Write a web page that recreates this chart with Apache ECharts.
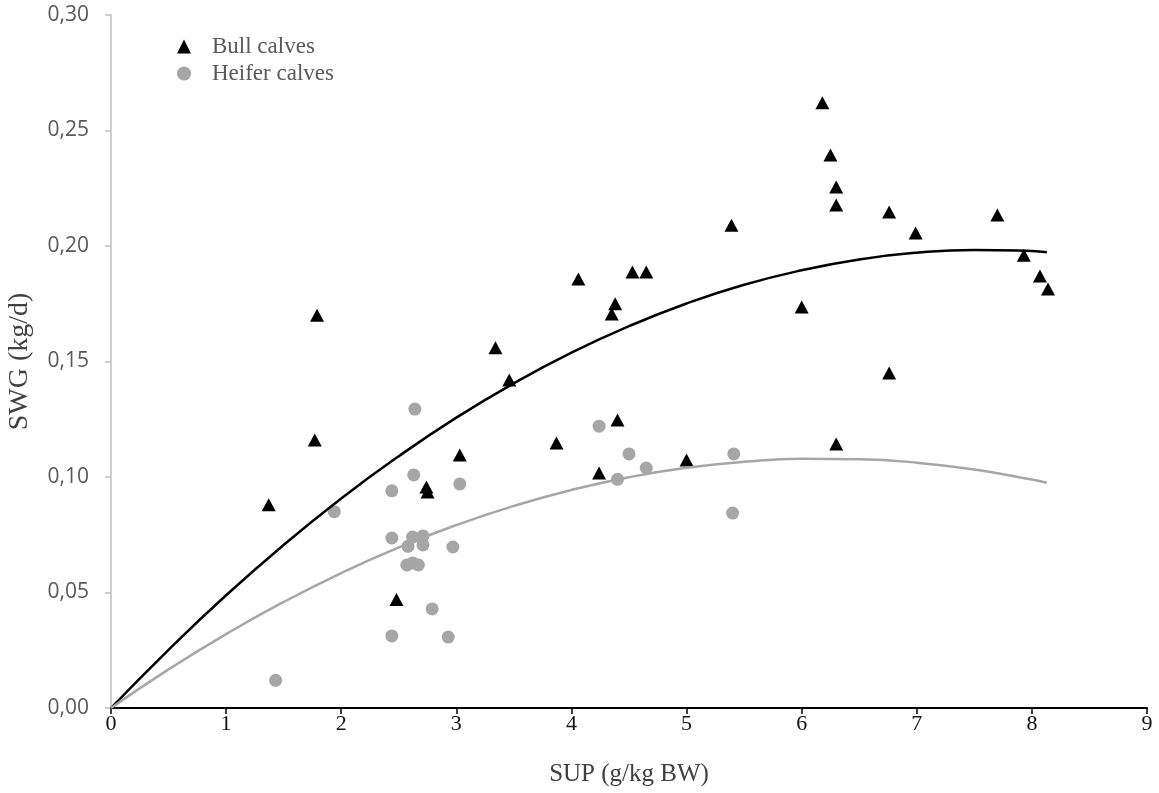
<!DOCTYPE html>
<html>
<head>
<meta charset="utf-8">
<script src="https://cdn.jsdelivr.net/npm/echarts@6/dist/echarts.min.js"></script>
<style>
html,body{margin:0;padding:0;background:#fff;}
#chart{width:1159px;height:793px;}
</style>
</head>
<body>
<div id="chart"></div>
<script>
// Bull calves: [SUP, SWG]
const bullX = [1.37, 1.77, 1.79, 2.48, 2.74, 2.75, 3.03, 3.34, 3.46, 3.87, 4.06, 4.24, 4.35, 4.38, 4.40, 4.53, 4.65, 5.00, 5.39, 6.00, 6.18, 6.25, 6.30, 6.30, 6.30, 6.76, 6.76, 6.99, 7.70, 7.93, 8.07, 8.14];
const bullY = [0.088, 0.116, 0.170, 0.047, 0.0957, 0.0935, 0.1095, 0.156, 0.142, 0.1147, 0.1857, 0.1017, 0.1706, 0.175, 0.1247, 0.1887, 0.1887, 0.1074, 0.209, 0.1736, 0.262, 0.2394, 0.2255, 0.2177, 0.1143, 0.2147, 0.145, 0.2056, 0.2134, 0.196, 0.187, 0.1814];
// Heifer calves
const heiferX = [1.43, 1.94, 2.44, 2.44, 2.44, 2.57, 2.58, 2.62, 2.62, 2.63, 2.64, 2.67, 2.71, 2.71, 2.79, 2.93, 2.97, 3.03, 4.24, 4.40, 4.50, 4.65, 5.40, 5.41];
const heiferY = [0.012, 0.085, 0.094, 0.0736, 0.0312, 0.0619, 0.070, 0.074, 0.0628, 0.1009, 0.1294, 0.0619, 0.0745, 0.0706, 0.0429, 0.0307, 0.0697, 0.097, 0.122, 0.099, 0.110, 0.1039, 0.0844, 0.110];
// Fitted curves
const curveX = [0, 0.5, 1, 1.5, 2, 2.5, 3, 3.5, 4, 4.5, 5, 5.5, 6, 6.5, 7, 7.5, 8, 8.13];
const bullCurve = [0, 0.0252, 0.0488, 0.0706, 0.0907, 0.1090, 0.1257, 0.1406, 0.1538, 0.1653, 0.1751, 0.1832, 0.1895, 0.1942, 0.1971, 0.1983, 0.1978, 0.1973];
const heiferCurve = [0, 0.0167, 0.0320, 0.0459, 0.0584, 0.0695, 0.0792, 0.0875, 0.0944, 0.0999, 0.1040, 0.1066, 0.1079, 0.1077, 0.1062, 0.1032, 0.0989, 0.0975];

const zip = (a, b) => a.map((v, i) => [v, b[i]]);

const chart = echarts.init(document.getElementById('chart'));
chart.setOption({
  animation: false,
  backgroundColor: '#fff',
  grid: { left: 111, right: 12, top: 15, bottom: 85, containLabel: false, outerBoundsMode: 'none' },
  legend: {
    orient: 'vertical',
    left: 172,
    top: 30,
    itemWidth: 14,
    itemHeight: 14,
    itemGap: 4,
    data: ['Bull calves', 'Heifer calves'],
    textStyle: { fontFamily: 'Liberation Serif', fontSize: 23, color: '#595959', padding: [0, 0, 0, 16] }
  },
  xAxis: {
    type: 'value', min: 0, max: 9, interval: 1,
    name: 'SUP (g/kg BW)', nameLocation: 'middle', nameGap: 54,
    nameTextStyle: { fontFamily: 'Liberation Serif', fontSize: 25, color: '#404040' },
    axisLine: { show: true, onZero: false, lineStyle: { color: '#000', width: 2 } },
    axisTick: { show: true, length: 6, lineStyle: { color: '#000', width: 1.5 } },
    axisLabel: { fontFamily: 'Liberation Serif', fontSize: 22, color: '#111', margin: 5 },
    splitLine: { show: false }
  },
  yAxis: {
    type: 'value', min: 0, max: 0.3, interval: 0.05,
    name: 'SWG (kg/d)', nameLocation: 'middle', nameGap: 77, nameRotate: 90,
    nameTextStyle: { fontFamily: 'Liberation Serif', fontSize: 28, color: '#404040' },
    axisLine: { show: true, lineStyle: { color: '#bfbfbf', width: 1.5 } },
    axisTick: { show: true, length: 6, lineStyle: { color: '#bfbfbf', width: 1.5 } },
    axisLabel: { fontFamily: 'Open Sans', fontSize: 21, color: '#595959', margin: 22,
      formatter: v => v.toFixed(2).replace('.', ',') },
    splitLine: { show: false }
  },
  series: [
    {
      name: 'Bull calves', type: 'scatter', symbol: 'triangle', symbolSize: [14, 13],
      itemStyle: { color: '#000', opacity: 1 }, data: zip(bullX, bullY), z: 3
    },
    {
      name: 'Heifer calves', type: 'scatter', symbol: 'circle', symbolSize: 13,
      itemStyle: { color: '#a6a6a6', opacity: 1 }, data: zip(heiferX, heiferY), z: 2
    },
    {
      name: 'bullFit', type: 'line', smooth: true, showSymbol: false, symbol: 'none',
      lineStyle: { color: '#000', width: 2.5 }, data: zip(curveX, bullCurve), z: 4
    },
    {
      name: 'heiferFit', type: 'line', smooth: true, showSymbol: false, symbol: 'none',
      lineStyle: { color: '#a6a6a6', width: 2.5 }, data: zip(curveX, heiferCurve), z: 4
    }
  ]
});
</script>
</body>
</html>
